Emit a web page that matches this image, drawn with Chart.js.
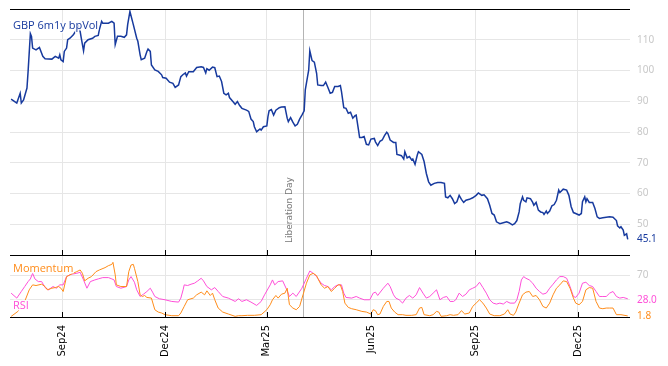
<!DOCTYPE html>
<html>
<head>
<meta charset="utf-8">
<script src="https://cdn.jsdelivr.net/npm/chart.js@4"></script>
<style>
  body { margin: 0; background: #fff; }
  #wrap { position: relative; width: 668px; height: 366px; }
  canvas { position: absolute; left: 0; }
  #volChart { top: 0; }
  #oscChart { top: 250px; }
</style>
</head>
<body>
<div id="wrap">
  <canvas id="volChart" width="668" height="256"></canvas>
  <canvas id="oscChart" width="668" height="116"></canvas>
</div>
<script>
// x values are days since 1 Jul 2024
const tickDays   = [62, 153, 243, 335, 427, 518];
const tickLabels = ['Sep24', 'Dec24', 'Mar25', 'Jun25', 'Sep25', 'Dec25'];
const libDay = 275; // 2 Apr 2025
const volTicks = [50, 60, 70, 80, 90, 100, 110];
const oscTicks = [30, 70];

const volDays = [17,22,25,26,28,31,32,34,35,36,39,42,45,47,53,56,59,60,61,63,64,66,67,69,72,73,75,76,78,79,81,82,85,89,91,94,95,97,98,103,106,108,109,111,114,117,119,120,122,125,128,129,131,132,135,137,138,140,141,144,147,150,151,
  154,157,160,162,165,167,169,171,172,174,178,181,185,187,189,190,192,195,197,199,201,203,205,207,209,210,213,215,217,219,221,225,227,229,231,232,234,237,238,240,243,244,245,247,249,251,254,256,259,261,262,264,266,268,270,272,274,276,277,279,280,281,283,285,287,288,
  291,293,295,297,299,301,303,306,308,309,311,313,315,317,319,321,322,324,325,327,329,331,333,335,338,339,341,343,345,347,349,350,352,355,357,358,360,362,364,365,367,369,371,372,374,376,377,380,382,384,386,388,391,394,397,400,401,403,405,407,409,411,413,415,417,419,422,425,
  428,430,433,435,438,440,442,444,446,449,452,455,457,460,462,464,466,467,469,470,472,473,476,478,479,481,483,485,487,488,490,491,493,495,497,499,501,502,505,508,510,512,514,516,519,521,522,524,525,526,528,531,533,535,537,540,543,546,549,552,553,555,556,558,559,561,562];
const volValues = [90.7,89.4,92.6,89.4,90.4,94.3,99.7,112.0,111.1,107.3,106.7,107.5,104.6,103.8,103.7,104.6,104.0,105.1,103.5,102.9,106.2,107.3,110.0,110.5,111.6,112.2,113.3,114.9,112.7,110.5,106.4,108.9,110.0,110.5,111.1,111.4,113.3,116.0,115.4,115.4,116.0,115.4,108.4,111.1,111.1,110.8,111.6,114.9,119.2,114.9,110.5,109.5,105.1,103.5,104.0,106.2,107.0,106.2,101.8,100.2,99.7,98.6,97.7,
  97.5,96.2,95.8,94.5,95.3,98.0,98.7,99.2,98.2,99.6,99.6,101.0,101.2,101.0,99.2,100.6,100.1,101.1,100.9,98.0,98.2,96.4,92.6,92.1,92.6,91.2,89.9,89.0,89.9,88.6,87.7,87.1,86.7,84.2,83.4,81.7,80.1,81.0,80.6,81.7,82.0,85.0,86.9,87.3,85.5,87.1,87.9,88.1,88.2,84.5,83.4,84.7,83.2,82.0,82.5,84.2,85.5,86.9,93.7,98.0,100.1,106.4,103.2,102.7,99.1,95.3,
  95.1,95.1,96.2,94.5,92.6,92.9,94.8,94.8,95.1,93.1,87.9,87.7,86.1,86.4,84.5,85.3,85.5,80.7,78.2,78.2,78.5,76.0,75.8,77.7,77.9,76.8,75.6,77.0,77.4,78.8,79.9,79.5,77.4,76.6,76.6,72.7,72.5,72.3,71.2,73.6,71.6,72.0,70.9,71.2,69.5,72.5,73.6,72.7,70.4,66.5,63.8,62.7,63.3,63.6,63.6,63.3,58.9,58.6,59.4,58.3,56.7,57.3,59.4,58.1,57.1,57.8,58.1,58.6,
  59.4,60.2,59.4,59.6,58.3,56.2,53.5,53.0,50.8,50.2,50.5,50.8,50.5,49.8,50.2,51.2,54.0,56.7,58.9,57.8,57.3,58.6,58.3,57.1,56.2,57.1,54.6,54.0,53.8,53.2,54.3,53.5,54.3,56.0,56.4,57.8,61.1,60.3,61.4,61.1,59.4,55.7,53.8,53.5,53.0,53.5,57.3,58.9,57.3,58.3,57.1,57.1,55.1,52.4,51.9,52.1,52.3,52.4,52.3,51.2,49.5,48.8,49.2,48.1,46.4,46.9,45.1];

const momDays = [17,23,29,33,36,39,44,47,49,53,56,59,61,63,66,70,75,78,80,82,85,88,92,95,100,103,106,107,109,110,114,119,121,123,125,126,129,131,133,135,137,141,144,147,150,153,159,165,167,170,173,178,181,185,188,190,193,195,197,200,204,209,215,218,221,226,232,238,243,246,248,251,253,256,259,261,263,266,269,272,275,278,281,284,287,
  288,291,294,297,300,303,306,308,310,312,315,318,322,327,331,335,337,339,341,343,346,349,351,353,356,359,363,366,371,375,378,380,382,387,390,393,395,397,402,405,408,412,415,418,422,425,428,431,434,437,440,444,449,453,456,458,461,463,466,469,472,475,478,481,484,487,490,493,496,499,502,505,508,511,514,516,519,522,525,528,531,534,537,540,543,546,549,552,556,562];
const momValues = [1,9.4,26.1,45.6,53.9,52.8,55,51.1,45.6,48.3,49.4,51.1,48.3,42.8,67.8,71.7,76.1,78.9,73.3,60.6,65,67.8,76.1,78.9,82.8,86.1,88.3,91.7,70.6,53.9,51.1,51.1,76.1,87.2,88.3,81.7,59.4,37.2,34.4,36.1,32.8,31.7,12.2,8.3,6.7,3.9,2.2,2.2,6.7,17.8,28.9,31.7,37.2,41.7,37.2,43.9,36.1,40,28.9,15,8.3,5,1.1,2.2,2.2,2.8,2.8,3.9,12.2,20.6,28.9,36.1,31.7,38.3,40,48.3,20.6,15,12.2,17.8,37.2,56.7,70.6,73.3,69.4,
  65,53.9,48.3,51.1,42.8,48.3,53.9,53.9,42.8,23.3,16.1,13.9,12.2,9.4,8.3,5,12.2,10.6,3.9,5,17.8,26.1,26.1,15,8.3,3.9,3.9,2.8,2.8,3.9,15,16.1,3.9,2.2,3.9,9.4,8.3,1.1,2.2,3.9,2.8,3.9,10.6,5,6.7,17.8,23.3,28.9,23.3,15,5,2.2,2.2,5,12.2,5,2.8,8.3,23.3,37.2,41.7,42.8,34.4,36.1,28.9,17.8,15,23.3,37.2,48.3,53.9,60.6,59.4,48.3,31.7,23.3,20.6,26.1,45.6,49.4,48.3,26.1,15,13.9,15,15,15,3.9,3.9,1.8];

const rsiDays = [17,22,26,29,32,34,36,38,41,44,47,50,54,57,60,63,66,70,75,78,81,84,87,91,94,98,103,106,108,110,114,119,121,123,126,128,131,134,137,140,142,144,148,153,159,165,167,169,170,173,176,179,182,185,187,190,194,197,200,204,209,215,218,221,225,229,234,238,241,246,248,250,253,257,260,263,266,269,274,278,281,284,287,
  288,291,294,297,300,303,306,309,311,313,318,322,325,329,334,337,339,341,346,350,352,355,357,360,363,366,369,372,375,378,381,384,387,390,393,396,399,402,405,408,410,413,416,419,422,425,428,431,434,437,440,443,446,449,452,455,458,462,464,466,468,470,472,475,478,481,484,487,490,493,496,499,502,505,508,511,514,516,519,522,525,528,531,534,537,540,543,546,549,552,555,558,562];
const rsiValues = [40,31.7,42.8,51.1,59.4,63.9,73.3,63.9,59.4,59.4,49.4,45.6,51.1,48.3,53.9,53.9,67.8,71.7,73.3,75,62.2,48.3,59.4,62.2,63.9,66.1,66.1,63.9,62.2,51.1,48.3,51.1,62.2,67.8,58.3,45.6,34.4,38.3,42.8,48.3,41.7,34.4,30.6,28.9,26.1,25,31.7,45.6,53.9,52.8,55,56.7,60.6,65,60.6,51.1,45.6,49.4,42.8,34.4,31.7,26.1,30.6,26.1,28.9,25,19.4,26.1,37.2,53.9,62.2,53.9,59.4,60.6,48.3,34.4,40,34.4,48.3,65,77.2,73.3,67.8,
  65,56.7,52.8,51.1,45.6,51.1,53.9,53.9,40,32.8,31.7,34.4,31.7,28.9,28.9,40,41.7,36.1,48.3,56.7,51.1,37.2,31.7,28.9,23.3,31.7,36.1,31.7,37.2,49.4,40,31.7,34.4,40,45.6,28.9,32.8,34.4,26.1,26.1,28.9,40,34.4,38.3,45.6,48.3,51.1,58.3,49.4,40,28.9,23.3,21.7,23.3,21.7,26.1,23.3,23.3,28.9,42.8,62.2,67.8,65,62.2,56.7,48.3,42.8,38.3,40,48.3,55,62.2,67.8,67.8,65,51.1,34.4,32.8,40,56.7,58.3,52.8,51.1,42.8,34.4,34.4,34.4,40,42.8,34.4,31.7,32.8,30.6,28.0];

const BLUE = '#173a9e', PINK = '#ff4fd8', ORANGE = '#ff8c1a', GRID = '#e6e6e6';

function pts(days, vals) { return days.map((d, i) => ({x: d, y: vals[i]})); }

function noPad(s) {
  s.paddingTop = 0; s.paddingBottom = 0; s.paddingLeft = 0; s.paddingRight = 0;
}

function xAxis(showLabels) {
  return {
    type: 'linear', min: 16, max: 564,
    afterBuildTicks: s => { s.ticks = tickDays.map(v => ({value: v})); },
    ticks: {
      display: showLabels, autoSkip: false, minRotation: 90, maxRotation: 90, padding: 8,
      color: '#000', font: {family: 'DejaVu Sans', size: 10},
      callback: v => tickLabels[tickDays.indexOf(v)]
    },
    grid: {color: GRID, drawTicks: false},
    border: {display: false},
    afterFit: s => { s.height = showLabels ? 49 : 0; noPad(s); }
  };
}

function yAxis(min, max, ticks, cb) {
  return {
    position: 'right', min: min, max: max,
    afterBuildTicks: s => { s.ticks = ticks.map(v => ({value: v})); },
    ticks: {color: '#c8c8c8', font: {family: 'Noto Sans', size: 10}, padding: 7, callback: cb},
    grid: {color: GRID, drawTicks: false},
    border: {display: false},
    afterFit: s => { s.width = 38; noPad(s); }
  };
}

function haloText(ctx, txt, x, y, color) {
  ctx.save();
  ctx.font = '11px "Open Sans"';
  ctx.textBaseline = 'alphabetic';
  ctx.lineJoin = 'round';
  ctx.strokeStyle = 'rgba(255,255,255,0.9)';
  ctx.lineWidth = 3;
  ctx.strokeText(txt, x, y);
  ctx.fillStyle = color;
  ctx.fillText(txt, x, y);
  ctx.restore();
}

function valueLabel(chart, v, color) {
  const ctx = chart.ctx, y = chart.scales.y.getPixelForValue(v);
  ctx.save();
  ctx.font = '10px "Noto Sans"';
  ctx.fillStyle = color;
  ctx.textAlign = 'left';
  ctx.textBaseline = 'middle';
  ctx.fillText(v.toFixed(1), chart.chartArea.right + 7, y);
  ctx.restore();
}

// frame lines, inward ticks, event line
const framePlugin = {
  id: 'frame',
  beforeDatasetsDraw(chart) {
    const {ctx, chartArea: a, scales} = chart;
    const x = Math.round(scales.x.getPixelForValue(libDay)) + 0.5;
    ctx.save();
    ctx.strokeStyle = '#b4b4b4';
    ctx.lineWidth = 1;
    ctx.beginPath(); ctx.moveTo(x, a.top); ctx.lineTo(x, a.bottom); ctx.stroke();
    ctx.restore();
  },
  afterDraw(chart) {
    const {ctx, chartArea: a, scales} = chart;
    ctx.save();
    ctx.strokeStyle = '#000';
    ctx.lineWidth = 1;
    ctx.beginPath();
    ctx.moveTo(a.left, a.top + 0.5); ctx.lineTo(a.right, a.top + 0.5);
    ctx.moveTo(a.left, a.bottom + 0.5); ctx.lineTo(a.right, a.bottom + 0.5);
    tickDays.forEach(d => {
      const x = Math.round(scales.x.getPixelForValue(d)) + 0.5;
      ctx.moveTo(x, a.bottom - 5); ctx.lineTo(x, a.bottom + 1);
    });
    ctx.stroke();
    ctx.restore();
  }
};

const volLabels = {
  id: 'volLabels',
  afterDraw(chart) {
    const {ctx, chartArea: a, scales} = chart;
    const x = scales.x.getPixelForValue(libDay);
    ctx.save();
    ctx.translate(x - 13, a.bottom - 12);
    ctx.rotate(-Math.PI / 2);
    ctx.font = '9px "DejaVu Sans"';
    ctx.fillStyle = '#777';
    ctx.textBaseline = 'middle';
    ctx.fillText('Liberation Day', 0, 0);
    ctx.restore();
    haloText(ctx, 'GBP 6m1y bpVol', 13, 29, BLUE);
    valueLabel(chart, volValues[volValues.length - 1], BLUE);
  }
};

const oscLabels = {
  id: 'oscLabels',
  afterDraw(chart) {
    haloText(chart.ctx, 'Momentum', 13, 22, ORANGE);
    haloText(chart.ctx, 'RSI', 13, 59, PINK);
    valueLabel(chart, rsiValues[rsiValues.length - 1], PINK);
    valueLabel(chart, momValues[momValues.length - 1], ORANGE);
  }
};

const volChart = new Chart(document.getElementById('volChart'), {
  type: 'line',
  data: {
    datasets: [{
      label: 'GBP 6m1y bpVol',
      data: pts(volDays, volValues),
      borderColor: BLUE, borderWidth: 1.5, pointRadius: 0, tension: 0
    }]
  },
  options: {
    responsive: false, animation: false,
    layout: {padding: {left: 10, top: 9, right: 0, bottom: 1}},
    plugins: {legend: {display: false}, tooltip: {enabled: false}},
    scales: {
      x: xAxis(false),
      y: yAxis(40, 120, volTicks)
    }
  },
  plugins: [framePlugin, volLabels]
});

const oscChart = new Chart(document.getElementById('oscChart'), {
  type: 'line',
  data: {
    datasets: [{
      label: 'Momentum',
      data: pts(momDays, momValues),
      borderColor: ORANGE, borderWidth: 1, pointRadius: 0, tension: 0
    }, {
      label: 'RSI',
      data: pts(rsiDays, rsiValues),
      borderColor: PINK, borderWidth: 1, pointRadius: 0, tension: 0
    }]
  },
  options: {
    responsive: false, animation: false,
    layout: {padding: {left: 10, top: 5, right: 0, bottom: 0}},
    plugins: {legend: {display: false}, tooltip: {enabled: false}},
    scales: {
      x: xAxis(true),
      y: yAxis(0, 104, oscTicks, v => v === 70 ? '70' : '')
    }
  },
  plugins: [framePlugin, oscLabels]
});
</script>
</body>
</html>
